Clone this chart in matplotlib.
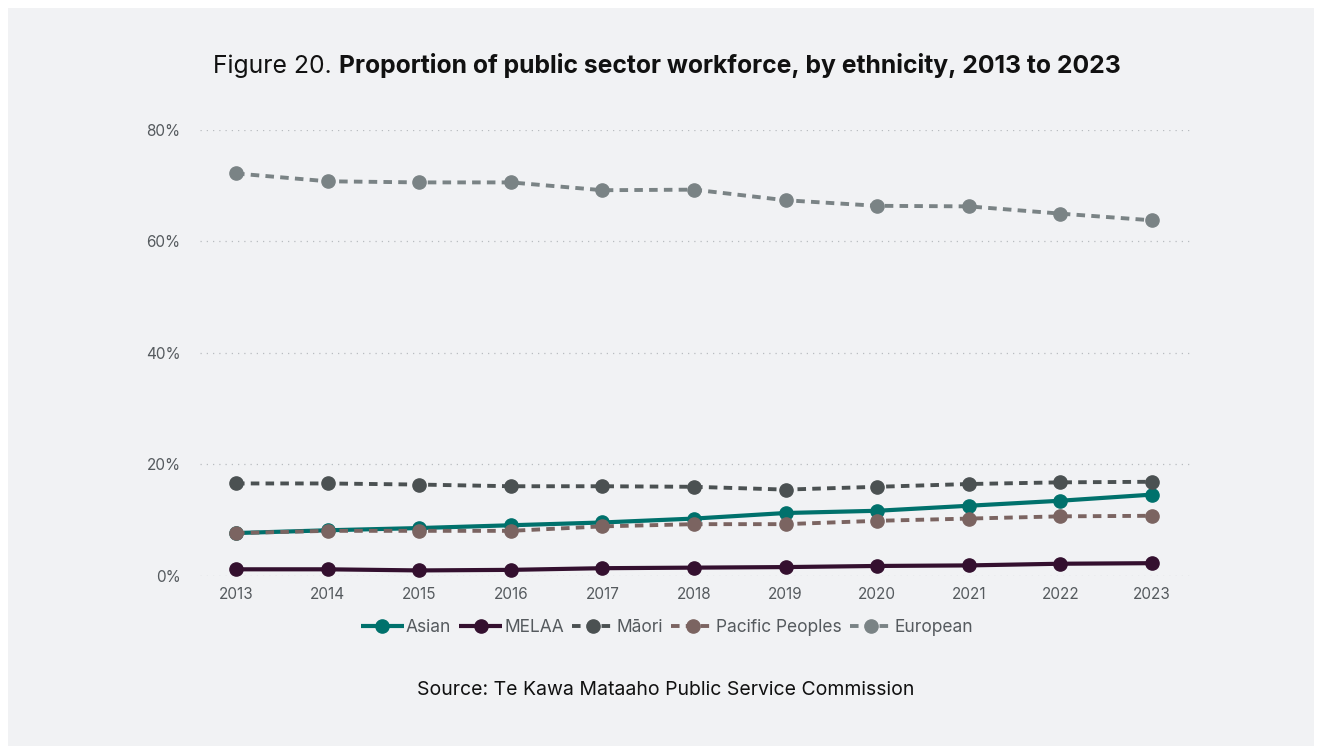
import matplotlib; matplotlib.use("Agg")
import matplotlib.pyplot as plt
from matplotlib.patches import Rectangle
from matplotlib.ticker import FuncFormatter

plt.rcParams["font.family"] = ["Inter", "DejaVu Sans"]

years = list(range(2013, 2024))
asian    = [7.7, 8.2, 8.6, 9.1, 9.6, 10.3, 11.3, 11.7, 12.6, 13.5, 14.6]
melaa    = [1.2, 1.2, 1.0, 1.1, 1.4, 1.5, 1.6, 1.8, 1.9, 2.2, 2.3]
maori    = [16.6, 16.6, 16.4, 16.1, 16.1, 16.0, 15.5, 16.0, 16.5, 16.8, 16.9]
pacific  = [7.7, 8.1, 8.1, 8.1, 8.9, 9.3, 9.3, 9.9, 10.3, 10.7, 10.8]
european = [72.2, 70.8, 70.6, 70.6, 69.2, 69.3, 67.4, 66.4, 66.3, 65.0, 63.8]

series = [
    ("Asian", asian, "#00716c", "-"),
    ("MELAA", melaa, "#34102f", "-"),
    ("Māori", maori, "#4b5152", (0, (2.2, 1.6))),
    ("Pacific Peoples", pacific, "#7b6461", (0, (2.2, 1.6))),
    ("European", european, "#7a8385", (0, (2.2, 1.6))),
]

W, H = 1322, 754
fig = plt.figure(figsize=(W / 100, H / 100), dpi=100, facecolor="white")
fig.patches.append(Rectangle((8 / W, 8 / H), 1306 / W, 738 / H, transform=fig.transFigure,
                             facecolor="#f1f2f4", edgecolor="none", zorder=-5))

ax = fig.add_axes([200 / W, (H - 576) / H, 990 / W, 446 / H])
ax.set_facecolor("none")
for name, vals, col, ls in series:
    ax.plot(years, vals, color=col, lw=3 if ls == "-" else 2.8, ls=ls, marker="o",
            ms=9.5, label=name, clip_on=False, solid_capstyle="butt")

ax.set_ylim(0, 80)
ax.set_xlim(2013 - 36 / 91.6, 2023 + 38 / 91.6)
ax.set_yticks([0, 20, 40, 60, 80])
ax.set_xticks(years)
ax.yaxis.set_major_formatter(FuncFormatter(lambda v, p: f"{v:.0f}%"))
ax.grid(axis="y", color="#b9bcc0", ls=(0, (1, 4)), lw=0.9)
ax.set_axisbelow(True)
for s in ax.spines.values():
    s.set_visible(False)
ax.tick_params(length=0, labelsize=11, labelcolor="#555a5e", pad=8)
ax.tick_params(axis="y", pad=14)

leg = ax.legend(loc="upper center", bbox_to_anchor=(0.4717, -0.062), ncol=5, frameon=False,
                fontsize=12.5, handlelength=2.5, handletextpad=0.1, columnspacing=0.45,
                labelcolor="#555a5e")

# two-part title: regular prefix, bold body, centred as one line
r = fig.canvas.get_renderer()
t1 = fig.text(0, 0, "Figure 20. ", fontsize=17.8, color="#111111")
t2 = fig.text(0, 0, "Proportion of public sector workforce, by ethnicity, 2013 to 2023",
              fontsize=17.8, fontweight="bold", color="#111111")
w1 = t1.get_window_extent(r).width
w2 = t2.get_window_extent(r).width
x0 = 667 - (w1 + w2) / 2
t1.set_position((x0 / W, (H - 73) / H))
t2.set_position(((x0 + w1) / W, (H - 73) / H))

fig.text(666 / W, (H - 690) / H, "Source: Te Kawa Mataaho Public Service Commission",
         ha="center", va="center", fontsize=14, color="#111111")

fig.savefig("out.png", dpi=100, facecolor="white")
